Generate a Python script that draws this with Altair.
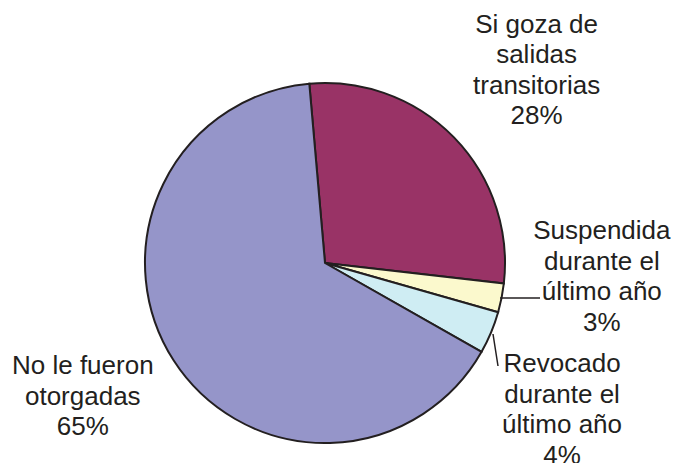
import altair as alt
import pandas as pd
import math

categories = ["Si goza de\nsalidas\ntransitorias\n28%",
              "Suspendida\ndurante el\núltimo año\n3%",
              "Revocado\ndurante el\núltimo año\n4%",
              "No le fueron\notorgadas\n65%"]
keys = ["goza", "susp", "revo", "no"]
values = [28.2, 2.6, 3.8, 65.4]
colors = ["#993366", "#FBF9CD", "#CFEDF3", "#9595C9"]

df = pd.DataFrame({"key": keys, "label": categories, "value": values,
                   "order": list(range(len(keys)))})

start = -5.0 * math.pi / 180
CX, CY = 317, 255
theta_scale = alt.Scale(domain=[0, sum(values)], range=[start, start + 2 * math.pi])

base = alt.Chart(df).transform_stack(
    stack="value", as_=["v0", "v1"], groupby=[], sort=[alt.SortField("order")]
).transform_calculate(mid="(datum.v0 + datum.v1) / 2")

pie = base.mark_arc(outerRadius=180, stroke="#231F20", strokeWidth=2).encode(
    theta=alt.Theta("v0:Q", scale=theta_scale, stack=None),
    theta2="v1:Q",
    x=alt.value(CX), y=alt.value(CY),
    color=alt.Color("key:N", scale=alt.Scale(domain=keys, range=colors), legend=None),
)

label_style = {
    "goza": dict(radius=287, dx=6, dy=-38),
    "susp": dict(radius=270, dx=12, dy=-84),
    "revo": dict(radius=270, dx=-12, dy=-3),
    "no": dict(radius=276, dx=-10, dy=-46),
}

layers = [pie]
for k in keys:
    st = label_style[k]
    layers.append(
        base.transform_filter(alt.datum.key == k).mark_text(
            radius=st["radius"], dx=st["dx"], dy=st["dy"],
            font="Arial", fontSize=26, lineHeight=30.5, lineBreak="\n",
            align="center", baseline="middle", color="#231F20"
        ).encode(
            theta=alt.Theta("mid:Q", scale=theta_scale, stack=None),
            x=alt.value(CX), y=alt.value(CY),
            text="label:N",
        )
    )

lines = alt.Chart(pd.DataFrame({"a": [0]})).mark_rule(color="#231F20", strokeWidth=1.5)
l1 = lines.encode(x=alt.value(492), x2=alt.value(532), y=alt.value(290), y2=alt.value(290))
l2 = lines.encode(x=alt.value(485), x2=alt.value(490), y=alt.value(326), y2=alt.value(358))

chart = alt.layer(*layers, l1, l2).properties(
    width=663, height=455, padding=0,
    autosize=alt.AutoSizeParams(type="none")
).configure_view(stroke=None)

chart.save("out.html", embed_options={"renderer": "svg", "actions": False})
